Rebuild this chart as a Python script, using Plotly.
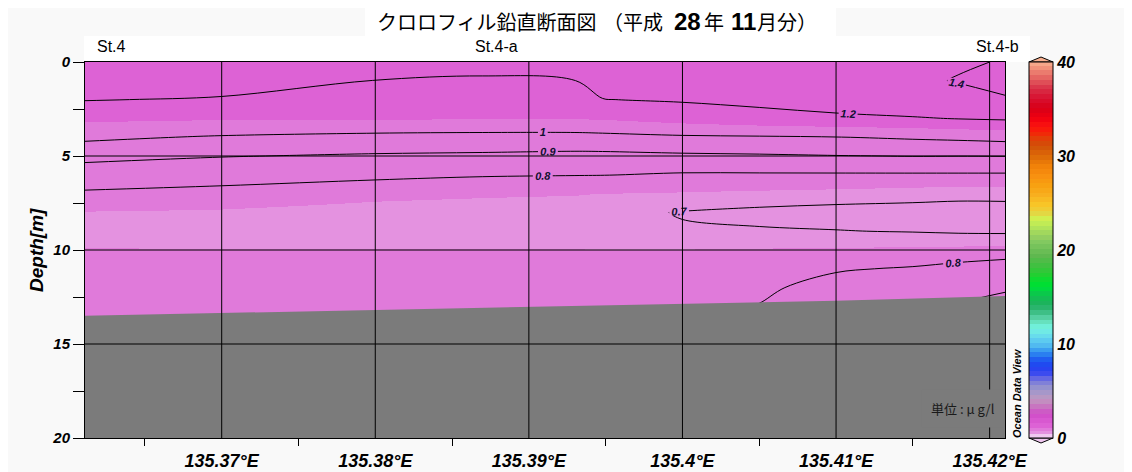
import plotly.graph_objects as go

# ---------------- data ----------------
LON = [135.361, 135.37, 135.38, 135.387, 135.393, 135.3948, 135.40, 135.405, 135.41, 135.415, 135.418, 135.421]
DEPTH = [0, 1, 2, 3, 4, 5, 6, 7, 8, 9, 10, 11, 12, 13, 14]

# chlorophyll profiles (µg/l), one list per longitude column, from surface to 14 m
CHL_135361 = [1.26, 1.24, 1.205, 1.12, 1.02, 0.93, 0.845, 0.79, 0.748, 0.735, 0.752, 0.77, 0.78, 0.785, 0.79]
CHL_135370 = [1.27, 1.25, 1.19, 1.11, 0.99, 0.904, 0.835, 0.775, 0.745, 0.73, 0.752, 0.77, 0.78, 0.785, 0.79]
CHL_135380 = [1.25, 1.198, 1.16, 1.11, 0.97, 0.89, 0.815, 0.76, 0.735, 0.725, 0.752, 0.77, 0.78, 0.785, 0.79]
CHL_135387 = [1.24, 1.186, 1.15, 1.105, 0.965, 0.885, 0.805, 0.755, 0.73, 0.72, 0.752, 0.77, 0.78, 0.785, 0.79]
CHL_135393 = [1.24, 1.199, 1.15, 1.105, 0.965, 0.878, 0.802, 0.752, 0.725, 0.715, 0.752, 0.77, 0.78, 0.785, 0.79]
CHL_1353948 = [1.26, 1.23, 1.198, 1.11, 0.97, 0.878, 0.802, 0.748, 0.715, 0.712, 0.752, 0.775, 0.785, 0.79, 0.795]
CHL_135400 = [1.28, 1.25, 1.21, 1.14, 0.985, 0.885, 0.79, 0.745, 0.697, 0.705, 0.752, 0.775, 0.785, 0.79, 0.795]
CHL_135405 = [1.30, 1.27, 1.225, 1.165, 0.99, 0.89, 0.79, 0.74, 0.685, 0.705, 0.755, 0.775, 0.79, 0.802, 0.81]
CHL_135410 = [1.33, 1.30, 1.25, 1.18, 0.998, 0.897, 0.79, 0.735, 0.675, 0.702, 0.757, 0.795, 0.82, 0.84, 0.85]
CHL_135415 = [1.34, 1.37, 1.30, 1.19, 1.012, 0.902, 0.79, 0.728, 0.67, 0.697, 0.762, 0.805, 0.84, 0.87, 0.88]
CHL_135418 = [1.38, 1.41, 1.335, 1.205, 1.02, 0.901, 0.79, 0.722, 0.667, 0.692, 0.765, 0.818, 0.875, 0.905, 0.92]
CHL_135421 = [1.41, 1.45, 1.385, 1.215, 1.03, 0.902, 0.79, 0.725, 0.665, 0.69, 0.77, 0.83, 0.89, 0.93, 0.95]

CHL_COLUMNS = [CHL_135361, CHL_135370, CHL_135380, CHL_135387, CHL_135393, CHL_1353948,
               CHL_135400, CHL_135405, CHL_135410, CHL_135415, CHL_135418, CHL_135421]

CONTOUR_LEVELS = [0.7, 0.8, 0.9, 1.0, 1.2, 1.4]

SEABED_LON = [135.361, 135.37, 135.38, 135.39, 135.40, 135.41, 135.421]
SEABED_DEPTH = [13.5, 13.35, 13.2, 13.0, 12.85, 12.7, 12.45]

STATION_NAMES = ["St.4", "St.4-a", "St.4-b"]
STATION_LON = [135.3628, 135.3879, 135.4205]

TITLE_PARTS = ["クロロフィル鉛直断面図", "（平成", "28", "年", "11", "月分）"]

X_TICKS = [135.37, 135.38, 135.39, 135.40, 135.41, 135.42]
X_TICK_TEXT = ["135.37°E", "135.38°E", "135.39°E", "135.4°E", "135.41°E", "135.42°E"]
Y_TICKS = [0, 5, 10, 15, 20]
CB_TICKS = [0, 10, 20, 30, 40]

X_RANGE = [135.3611, 135.4210]
DEPTH_MAX = 20
C_MAX = 40

# ---------------- styling ----------------
Z = [list(row) for row in zip(*CHL_COLUMNS)]

CB_ANCHORS = [
    (0.0, '#F0C8F0'), (2.5, '#D048C8'), (3.4, '#C878C0'), (4.1, '#C098C0'), (4.8, '#A898C8'),
    (5.5, '#9090D0'), (6.2, '#7070E0'), (6.9, '#3848F0'), (7.6, '#2040F0'), (8.4, '#2060F0'),
    (9.1, '#3090F0'), (9.8, '#50B8F0'), (10.5, '#60D0F0'), (11.2, '#70E8E8'), (11.9, '#70F0D8'),
    (12.6, '#60D8B0'), (13.3, '#40C088'), (14.1, '#20B060'), (15.1, '#10C050'), (15.8, '#00D840'),
    (16.5, '#00E030'), (17.3, '#20D030'), (18.3, '#40C040'), (19.4, '#60B850'), (20.8, '#80C860'),
    (21.5, '#98D060'), (22.6, '#B8E858'), (23.3, '#D0F050'), (24.0, '#E8D040'), (24.7, '#F8C828'),
    (25.8, '#F8B020'), (26.9, '#F8A010'), (27.9, '#F89010'), (29.0, '#F08008'), (29.7, '#E07008'),
    (30.4, '#D86008'), (31.1, '#D05008'), (31.8, '#E04008'), (32.6, '#F82008'), (33.3, '#F81010'),
    (34.0, '#F00010'), (35.1, '#D80018'), (36.1, '#D81030'), (37.2, '#D83048'), (37.9, '#E05058'),
    (38.6, '#E87068'), (39.3, '#F09078'), (40.0, '#F8B090')]

LOW_STEPS = [(0.0, 0.4, '#F0C8F0'), (0.4, 0.75, '#E492E0'), (0.75, 1.1, '#E07ADA'),
             (1.1, 1.6, '#DD62D5'), (1.6, 2.1, '#D858D0')]


def hex2rgb(h):
    h = h.lstrip('#')
    return tuple(int(h[i:i + 2], 16) for i in (0, 2, 4))


def anchor_color(v):
    for (a, ca), (b, cb) in zip(CB_ANCHORS[:-1], CB_ANCHORS[1:]):
        if a <= v <= b:
            t = (v - a) / (b - a)
            r1, g1, b1 = hex2rgb(ca)
            r2, g2, b2 = hex2rgb(cb)
            return 'rgb(%d,%d,%d)' % (round(r1 + (r2 - r1) * t), round(g1 + (g2 - g1) * t), round(b1 + (b2 - b1) * t))
    return CB_ANCHORS[-1][1]


steps = list(LOW_STEPS)
a = 2.1
while a < C_MAX - 1e-9:
    b = min(a + 0.5, C_MAX)
    steps.append((a, b, anchor_color((a + b) / 2)))
    a = b
colorscale = []
for a, b, c in steps:
    colorscale.append([a / C_MAX, c])
    colorscale.append([b / C_MAX, c])
colorscale[-1][0] = 1.0

# page body has an 8px margin: lay the figure out in reference pixels shifted by it
PLOT_L, PLOT_R, PLOT_T, PLOT_B = 85, 1005, 62, 438
OFF = 8
FIG_W, FIG_H = 1132 - OFF, 472 - OFF


def px(X):
    return (X - PLOT_L) / (PLOT_R - PLOT_L)


def py(Y):
    return (PLOT_B - Y) / (PLOT_B - PLOT_T)


FONT = "Liberation Sans"
CJK = "Noto Sans CJK JP"
BI = dict(family=FONT, weight='bold', style='italic', color='black')

fig = go.Figure()

fig.add_trace(go.Heatmap(
    x=LON, y=DEPTH, z=Z, zsmooth='best', colorscale=colorscale, zmin=0, zmax=C_MAX,
    hoverinfo='skip',
    colorbar=dict(x=px(1029), xanchor='left', xpad=0, ypad=0, y=0.5, yanchor='middle',
                  len=1, lenmode='fraction', thickness=24, outlinewidth=1, outlinecolor='black',
                  tickvals=CB_TICKS, ticks='', tickfont=dict(size=16, **BI), ticklabelposition='outside'),
))

for lev in CONTOUR_LEVELS:
    fig.add_trace(go.Contour(
        x=LON, y=DEPTH, z=Z, autocontour=False, showscale=False, hoverinfo='skip',
        colorscale=[[0, 'black'], [1, 'black']],
        contours=dict(start=lev, end=lev, size=0.05, coloring='lines', showlabels=True,
                      labelformat='.1~f',
                      labelfont=dict(family=FONT, size=11, style='italic', weight='bold', color='#101030')),
        line=dict(width=1),
    ))

fig.add_trace(go.Scatter(
    x=SEABED_LON + [SEABED_LON[-1], SEABED_LON[0]],
    y=SEABED_DEPTH + [DEPTH_MAX, DEPTH_MAX],
    fill='toself', fillcolor='#7B7B7B', mode='lines', line=dict(width=0, color='#7B7B7B'),
    hoverinfo='skip', showlegend=False))

shapes = []
for xv in X_TICKS:
    shapes.append(dict(type='line', xref='x', yref='paper', x0=xv, x1=xv, y0=0, y1=1,
                       line=dict(color='black', width=1), layer='above'))
for yv in Y_TICKS[1:-1]:
    shapes.append(dict(type='line', xref='paper', yref='y', x0=0, x1=1, y0=yv, y1=yv,
                       line=dict(color='black', width=1), layer='above'))
# white boxes behind title and station row
shapes.append(dict(type='rect', xref='paper', yref='paper', x0=px(365), x1=px(836),
                   y0=py(38), y1=py(5), fillcolor='white', line=dict(width=0), layer='below'))
shapes.append(dict(type='rect', xref='paper', yref='paper', x0=px(84), x1=px(1030),
                   y0=1.0, y1=py(36), fillcolor='white', line=dict(width=0), layer='below'))
# colorbar end triangles
cx0, cx1 = px(1029), px(1053)
cxm = (cx0 + cx1) / 2
shapes.append(dict(type='path', xref='paper', yref='paper',
                   path=f"M {cx0},1 L {cxm},{py(57)} L {cx1},1 Z",
                   fillcolor='#F8B090', line=dict(color='black', width=1), layer='above'))
shapes.append(dict(type='path', xref='paper', yref='paper',
                   path=f"M {cx0},0 L {cxm},{py(443)} L {cx1},0 Z",
                   fillcolor='#F0C8F0', line=dict(color='black', width=1), layer='above'))

annotations = [
    dict(text="Depth[m]", xref='paper', yref='paper', x=px(36), y=0.5, textangle=-90,
         showarrow=False, xanchor='center', yanchor='middle', font=dict(size=19, **BI)),
    dict(text="単位 : μ g/l", xref='paper', yref='paper', x=px(963), y=py(408),
         showarrow=False, xanchor='center', yanchor='middle', bgcolor='#7B7B7B', borderpad=9,
         font=dict(family=CJK, size=13, color='#1a1a1a')),
    dict(text="Ocean Data View", xref='paper', yref='paper', x=px(1017), y=py(440),
         textangle=-90, showarrow=False, xanchor='center', yanchor='bottom',
         font=dict(size=11, **BI)),
]
# title pieces (numbers are drawn bold in the reference)
title_left = [376, 602, 673, 703, 730, 756]
title_font = [dict(family=CJK, size=20, color='black'), dict(family=CJK, size=20, color='black'),
              dict(family=FONT, size=24, weight='bold', color='black'), dict(family=CJK, size=20, color='black'),
              dict(family=FONT, size=24, weight='bold', color='black'), dict(family=CJK, size=20, color='black')]
for txt, xl, fnt in zip(TITLE_PARTS, title_left, title_font):
    annotations.append(dict(text=txt, xref='paper', yref='paper', x=px(xl), y=py(22),
                            showarrow=False, xanchor='left', yanchor='middle', font=fnt,
                            borderpad=0))
for name, lon in zip(STATION_NAMES, STATION_LON):
    annotations.append(dict(text=name, xref='x', yref='paper', x=lon, y=py(47),
                            showarrow=False, xanchor='center', yanchor='middle',
                            font=dict(family=FONT, size=16, color='black')))

fig.update_layout(
    width=FIG_W, height=FIG_H,
    margin=dict(l=PLOT_L - OFF, r=FIG_W - (PLOT_R - OFF), t=PLOT_T - OFF, b=FIG_H - (PLOT_B - OFF),
                autoexpand=False),
    paper_bgcolor='#F9F9F9', plot_bgcolor='#E07ADA',
    showlegend=False,
    shapes=shapes, annotations=annotations,
    xaxis=dict(range=X_RANGE, tickvals=X_TICKS, ticktext=X_TICK_TEXT, showgrid=False, zeroline=False,
               showline=True, linecolor='black', linewidth=1, mirror=True, ticks='', automargin=False,
               ticklabelstandoff=6, tickfont=dict(size=18, **BI),
               minor=dict(tick0=135.365, dtick=0.01, ticks='outside', ticklen=7, tickcolor='black',
                          showgrid=False)),
    yaxis=dict(range=[DEPTH_MAX, 0], tickvals=Y_TICKS, showgrid=False, zeroline=False,
               showline=True, linecolor='black', linewidth=1, mirror=True, ticks='outside',
               automargin=False,
               ticklen=11, tickcolor='black', ticklabelstandoff=0, tickfont=dict(size=15, **BI),
               minor=dict(tick0=2.5, dtick=5, ticks='outside', ticklen=11, tickcolor='black',
                          showgrid=False)),
)

fig.write_html("out.html")
